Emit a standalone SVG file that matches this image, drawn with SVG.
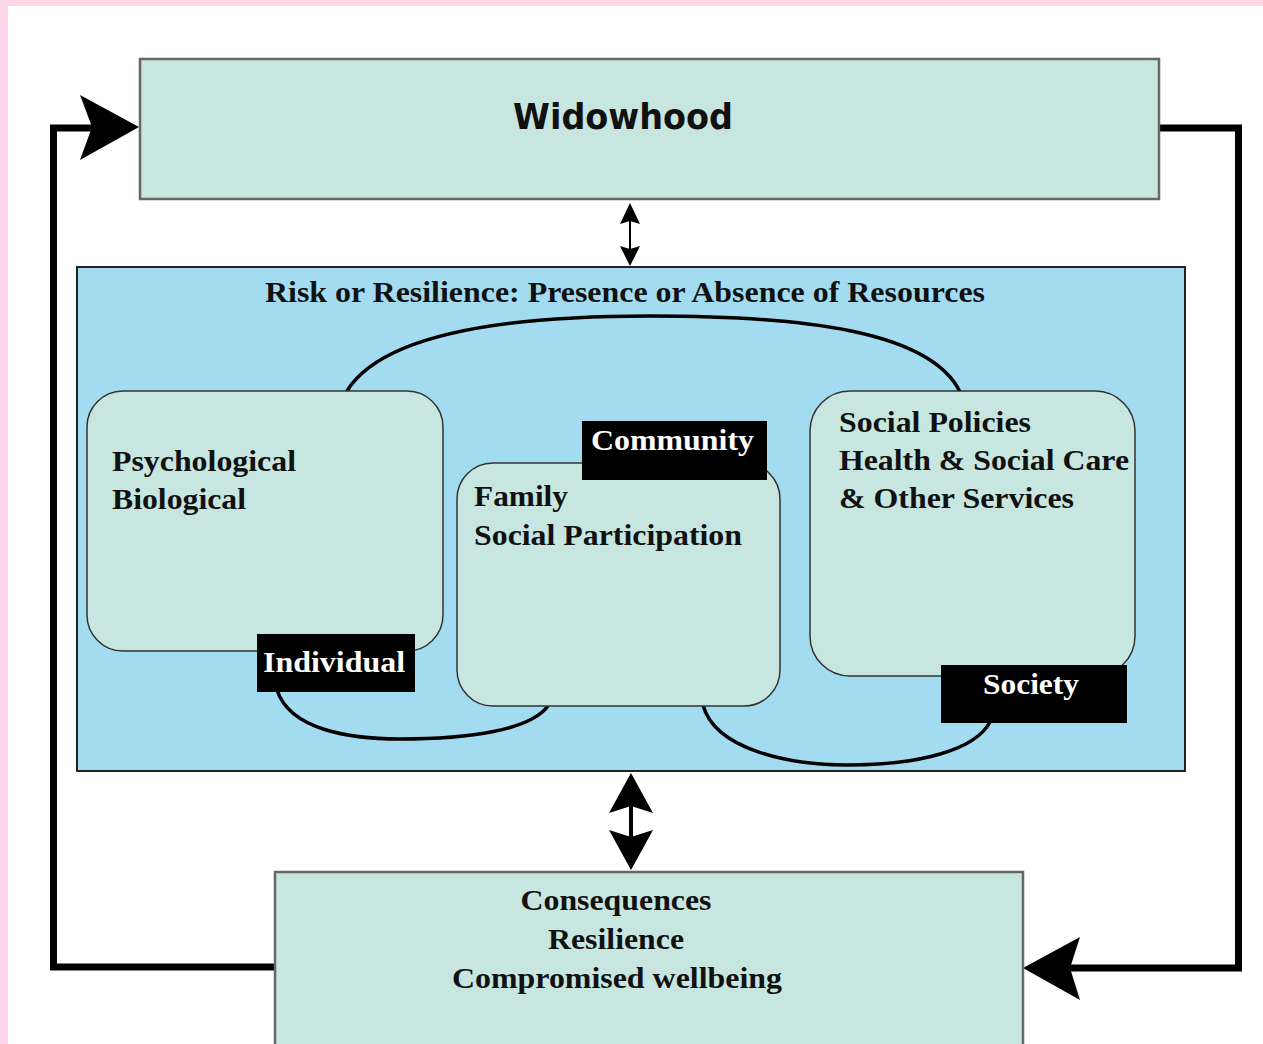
<svg xmlns="http://www.w3.org/2000/svg" width="1263" height="1044" viewBox="0 0 1263 1044">
<style>
.bg{fill:#ffffff}
.main{fill:#c7e6e0;stroke:#666;stroke-width:2.5}
.risk{fill:#a3dcf0;stroke:#222;stroke-width:2}
.rbox{fill:#c7e6e0;stroke:#333;stroke-width:1.5}
.curve{fill:none;stroke:#000;stroke-width:3.5}
.loop{fill:none;stroke:#000;stroke-width:7;stroke-linejoin:miter}
.head{fill:#000}
.serif{font-family:"Liberation Serif","Times New Roman",serif;font-weight:bold;fill:#111}
.lbl{font-family:"Liberation Serif","Times New Roman",serif;font-weight:bold;fill:#fff}
.tag{fill:#000}
</style>
<rect x="0" y="0" width="1263" height="1044" fill="#ffd6e7"/>
<rect x="8" y="6" width="1255" height="1038" class="bg"/>

<g id="connectors">
  <polyline class="loop" points="275,967 53.5,967 53.5,128 95,128"/>
  <polygon class="head" points="139,127 80,95 92,127 80,160"/>
  <polyline class="loop" points="1159,128 1238.5,128 1238.5,968 1065,968"/>
  <polygon class="head" points="1023,968 1080,937 1070,968 1080,1000"/>
  <line x1="630" y1="215" x2="630" y2="255" stroke="#000" stroke-width="2"/>
  <polygon class="head" points="630,203 620,224 630,221 640,224"/>
  <polygon class="head" points="630,266 620,246 630,249 640,246"/>
  <line x1="631" y1="800" x2="631" y2="845" stroke="#000" stroke-width="4"/>
  <polygon class="head" points="631,773 609,813 631,806 653,813"/>
  <polygon class="head" points="631,870 609,830 631,837 653,830"/>
</g>

<g id="widowhood">
  <rect class="main" x="140" y="59" width="1019" height="140"/>
  <text x="623" y="129" text-anchor="middle" font-family="'DejaVu Sans','Liberation Sans',sans-serif" font-weight="bold" font-size="36" fill="#111" textLength="220" lengthAdjust="spacingAndGlyphs">Widowhood</text>
</g>

<g id="risk">
  <rect class="risk" x="77" y="267" width="1108" height="504"/>
  <text class="serif" x="265" y="302" font-size="30" textLength="720" lengthAdjust="spacingAndGlyphs">Risk or Resilience: Presence or Absence of Resources</text>
</g>

<g id="curves">
  <path class="curve" d="M347,391 C385,330 520,316 650,316 C800,316 930,330 960,392"/>
  <path class="curve" d="M277,690 C290,730 350,739 400,739 C470,739 530,730 548,706"/>
  <path class="curve" d="M703,705 C715,750 790,765 847,765 C920,765 975,750 990,722"/>
</g>

<g id="individual">
  <rect class="rbox" x="87" y="391" width="356" height="260" rx="36" ry="36"/>
  <text class="serif" x="112" y="471" font-size="30" textLength="184" lengthAdjust="spacingAndGlyphs">Psychological</text>
  <text class="serif" x="112" y="509" font-size="30" textLength="134" lengthAdjust="spacingAndGlyphs">Biological</text>
  <rect class="tag" x="257" y="634" width="158" height="58"/>
  <text class="lbl" x="263" y="672" font-size="30" textLength="142" lengthAdjust="spacingAndGlyphs">Individual</text>
</g>

<g id="community">
  <rect class="rbox" x="457" y="463" width="323" height="243" rx="36" ry="36"/>
  <text class="serif" x="474" y="506" font-size="30" textLength="94" lengthAdjust="spacingAndGlyphs">Family</text>
  <text class="serif" x="474" y="545" font-size="30" textLength="268" lengthAdjust="spacingAndGlyphs">Social Participation</text>
  <rect class="tag" x="582" y="421" width="185" height="59"/>
  <text class="lbl" x="591" y="450" font-size="30" textLength="163" lengthAdjust="spacingAndGlyphs">Community</text>
</g>

<g id="society">
  <rect class="rbox" x="810" y="391" width="325" height="285" rx="40" ry="40"/>
  <text class="serif" x="839" y="432" font-size="30" textLength="192" lengthAdjust="spacingAndGlyphs">Social Policies</text>
  <text class="serif" x="839" y="470" font-size="30" textLength="290" lengthAdjust="spacingAndGlyphs">Health &amp; Social Care</text>
  <text class="serif" x="839" y="508" font-size="30" textLength="235" lengthAdjust="spacingAndGlyphs">&amp; Other Services</text>
  <rect class="tag" x="941" y="665" width="186" height="58"/>
  <text class="lbl" x="983" y="694" font-size="30" textLength="96" lengthAdjust="spacingAndGlyphs">Society</text>
</g>

<g id="consequences">
  <rect class="main" x="275" y="872" width="748" height="180"/>
  <text class="serif" x="616" y="910" text-anchor="middle" font-size="30" textLength="191" lengthAdjust="spacingAndGlyphs">Consequences</text>
  <text class="serif" x="616" y="949" text-anchor="middle" font-size="30" textLength="136" lengthAdjust="spacingAndGlyphs">Resilience</text>
  <text class="serif" x="617" y="988" text-anchor="middle" font-size="30" textLength="330" lengthAdjust="spacingAndGlyphs">Compromised wellbeing</text>
</g>
</svg>
